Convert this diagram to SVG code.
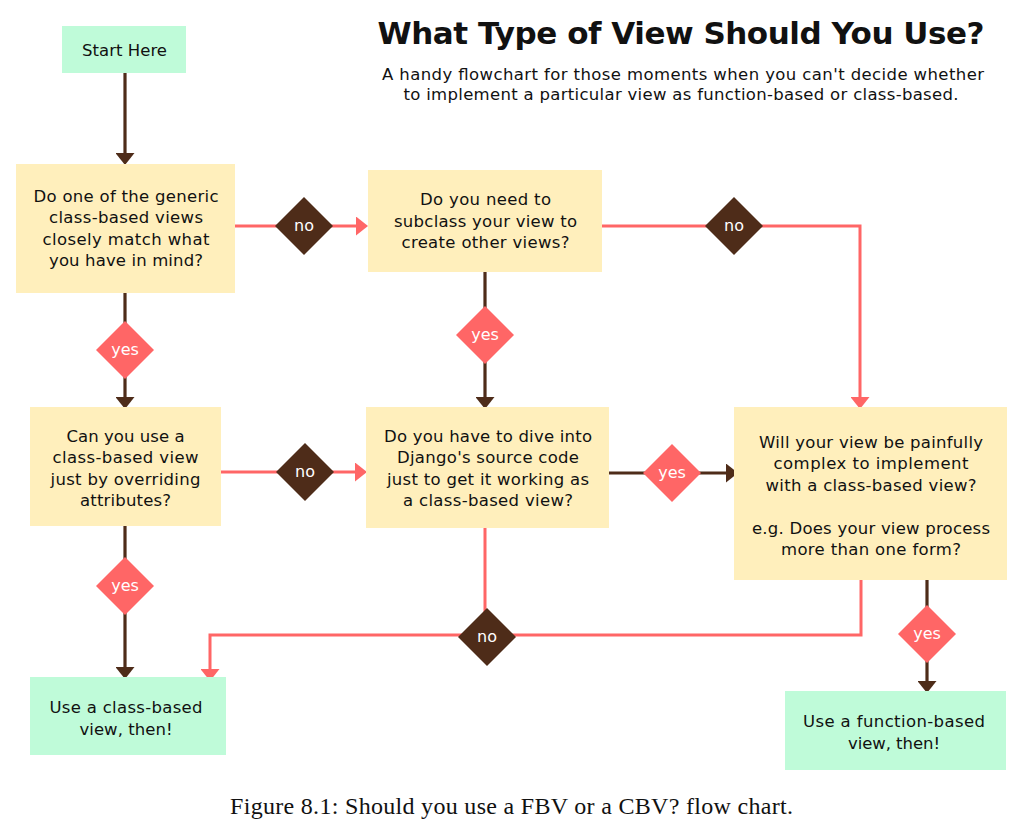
<svg xmlns="http://www.w3.org/2000/svg" width="1034" height="838" viewBox="0 0 1034 838">
  <style>
    .q { fill: #ffefbc; }
    .end { fill: #bffbd9; }
    .t { font-family: "DejaVu Sans", "Liberation Sans", sans-serif; font-size: 16.5px; fill: #111; text-anchor: middle; }
    .dl { font-family: "DejaVu Sans", "Liberation Sans", sans-serif; font-size: 16px; fill: #fff; text-anchor: middle; }
    .dno { fill: #4e2c19; }
    .dyes { fill: #ff6666; }
    .lb { fill: none; stroke: #4e2c19; stroke-width: 3.2; }
    .lp { fill: none; stroke: #ff6666; stroke-width: 3; }
  </style>
  <defs>
    <marker id="ah-brown" viewBox="0 0 12 19" refX="6" refY="9.5" markerWidth="12" markerHeight="19" markerUnits="userSpaceOnUse" orient="auto">
      <path d="M0,0 L12,9.5 L0,19 Z" fill="#4e2c19"/>
    </marker>
    <marker id="ah-pink" viewBox="0 0 12 19" refX="6" refY="9.5" markerWidth="12" markerHeight="19" markerUnits="userSpaceOnUse" orient="auto">
      <path d="M0,0 L12,9.5 L0,19 Z" fill="#ff6666"/>
    </marker>
  </defs>

  <rect width="1034" height="838" fill="#ffffff"/>

  <!-- heading -->
  <g id="title">
    <text x="681" y="44" font-family="'DejaVu Sans', sans-serif" font-weight="bold" font-size="31" fill="#111" text-anchor="middle" textLength="607">What Type of View Should You Use?</text>
    <text x="683" y="80" class="t" font-size="16.5" textLength="602">A handy flowchart for those moments when you can't decide whether</text>
    <text x="681" y="100" class="t" font-size="16.5" textLength="555">to implement a particular view as function-based or class-based.</text>
  </g>

  <!-- connectors -->
  <g id="connectors">
    <path class="lb" d="M125,73 V159" marker-end="url(#ah-brown)"/>
    <path class="lp" d="M235,226 H362" marker-end="url(#ah-pink)"/>
    <path class="lb" d="M125,293 V403" marker-end="url(#ah-brown)"/>
    <path class="lp" d="M602,226 H860 V403" marker-end="url(#ah-pink)"/>
    <path class="lb" d="M485,272 V403" marker-end="url(#ah-brown)"/>
    <path class="lp" d="M221,472 H361" marker-end="url(#ah-pink)"/>
    <path class="lb" d="M609,473 H732" marker-end="url(#ah-brown)"/>
    <path class="lp" d="M485,528 V635 H210 V675" marker-end="url(#ah-pink)"/>
    <path class="lp" d="M861,580 V635 H486"/>
    <path class="lb" d="M125,526 V673" marker-end="url(#ah-brown)"/>
    <path class="lb" d="M927,580 V687" marker-end="url(#ah-brown)"/>
  </g>

  <!-- decision labels on the connectors -->
  <g id="label-no-1">
    <polygon class="dno" points="304,197 333,226 304,255 275,226"/>
    <text class="dl" x="304" y="231">no</text>
  </g>
  <g id="label-yes-1">
    <polygon class="dyes" points="125,321 154,350 125,379 96,350"/>
    <text class="dl" x="125" y="355">yes</text>
  </g>
  <g id="label-no-2">
    <polygon class="dno" points="734,197 763,226 734,255 705,226"/>
    <text class="dl" x="734" y="231">no</text>
  </g>
  <g id="label-yes-2">
    <polygon class="dyes" points="485,306 514,335 485,364 456,335"/>
    <text class="dl" x="485" y="340">yes</text>
  </g>
  <g id="label-no-3">
    <polygon class="dno" points="305,443 334,472 305,501 276,472"/>
    <text class="dl" x="305" y="477">no</text>
  </g>
  <g id="label-yes-3">
    <polygon class="dyes" points="672,444 701,473 672,502 643,473"/>
    <text class="dl" x="672" y="478">yes</text>
  </g>
  <g id="label-no-4">
    <polygon class="dno" points="487,608 516,637 487,666 458,637"/>
    <text class="dl" x="487" y="642">no</text>
  </g>
  <g id="label-yes-4">
    <polygon class="dyes" points="125,557 154,586 125,615 96,586"/>
    <text class="dl" x="125" y="591">yes</text>
  </g>
  <g id="label-yes-5">
    <polygon class="dyes" points="927,605 956,634 927,663 898,634"/>
    <text class="dl" x="927" y="639">yes</text>
  </g>

  <!-- nodes -->
  <g id="start">
    <rect class="end" x="62" y="26" width="124" height="47"/>
    <text class="t" x="124.5" y="56" textLength="85">Start Here</text>
  </g>

  <g id="generic-match">
    <rect class="q" x="16" y="164" width="219" height="129"/>
    <text class="t" x="126" y="202" textLength="185">Do one of the generic</text>
    <text class="t" x="126" y="223" textLength="154">class-based views</text>
    <text class="t" x="126" y="244.5" textLength="167">closely match what</text>
    <text class="t" x="126" y="266" textLength="154">you have in mind?</text>
  </g>

  <g id="subclass">
    <rect class="q" x="368" y="170" width="234" height="102"/>
    <text class="t" x="485.5" y="205" textLength="131">Do you need to</text>
    <text class="t" x="485.5" y="226.5" textLength="183">subclass your view to</text>
    <text class="t" x="485.5" y="248" textLength="168">create other views?</text>
  </g>

  <g id="override-attrs">
    <rect class="q" x="30" y="407" width="191" height="119"/>
    <text class="t" x="125.5" y="442" textLength="118">Can you use a</text>
    <text class="t" x="125.5" y="463" textLength="146">class-based view</text>
    <text class="t" x="125.5" y="484.5" textLength="150">just by overriding</text>
    <text class="t" x="125.5" y="506" textLength="91">attributes?</text>
  </g>

  <g id="source-dive">
    <rect class="q" x="366" y="407" width="243" height="121"/>
    <text class="t" x="488" y="442" textLength="208">Do you have to dive into</text>
    <text class="t" x="488" y="463" textLength="182">Django's source code</text>
    <text class="t" x="488" y="484.5" textLength="202">just to get it working as</text>
    <text class="t" x="488" y="506" textLength="170">a class-based view?</text>
  </g>

  <g id="painfully-complex">
    <rect class="q" x="734" y="407" width="273" height="173"/>
    <text class="t" x="871" y="448" textLength="224">Will your view be painfully</text>
    <text class="t" x="871" y="469" textLength="195">complex to implement</text>
    <text class="t" x="871" y="490.5" textLength="211">with a class-based view?</text>
    <text class="t" x="871" y="533.5" textLength="238">e.g. Does your view process</text>
    <text class="t" x="871" y="555" textLength="180">more than one form?</text>
  </g>

  <g id="use-cbv">
    <rect class="end" x="30" y="677" width="196" height="78"/>
    <text class="t" x="126" y="713" textLength="153">Use a class-based</text>
    <text class="t" x="126" y="734.5" textLength="93">view, then!</text>
  </g>

  <g id="use-fbv">
    <rect class="end" x="785" y="691" width="221" height="79"/>
    <text class="t" x="894" y="727" textLength="182">Use a function-based</text>
    <text class="t" x="894" y="748.5" textLength="92">view, then!</text>
  </g>

  <!-- caption -->
  <text x="511.5" y="814" font-family="'Liberation Serif', serif" font-size="24" fill="#111" text-anchor="middle" textLength="563">Figure 8.1: Should you use a FBV or a CBV? flow chart.</text>
</svg>
